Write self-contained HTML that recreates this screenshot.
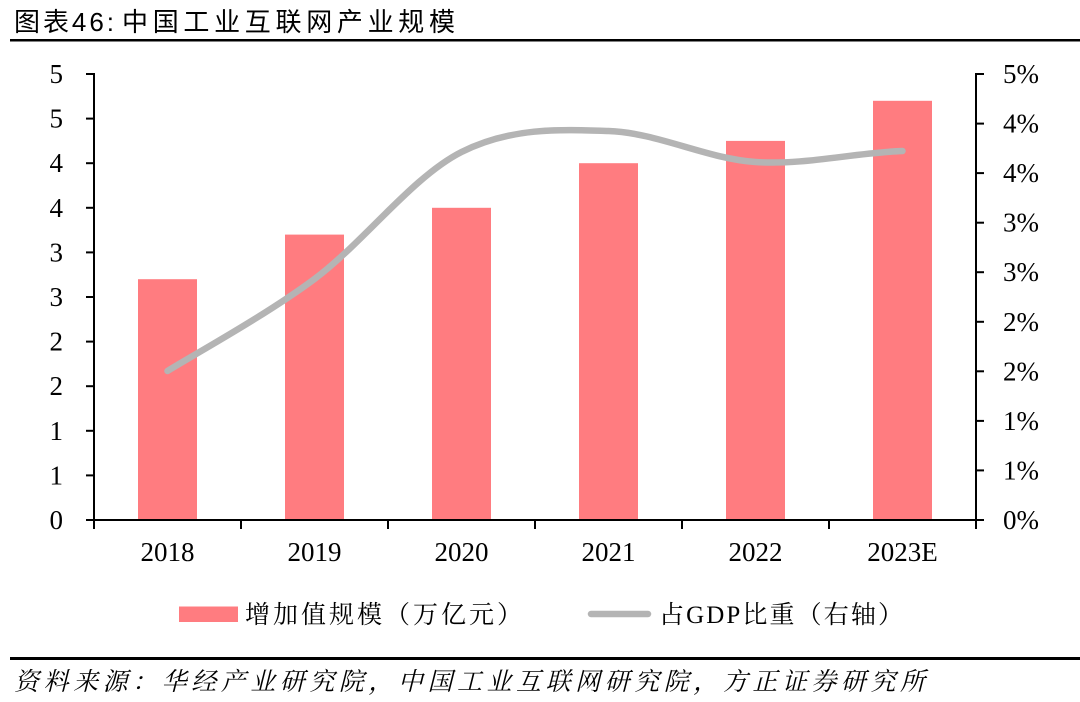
<!DOCTYPE html>
<html><head><meta charset="utf-8"><style>
html,body{margin:0;padding:0;background:#fff;}
svg{display:block;}
.ax{font-family:"Liberation Serif","Noto Serif CJK SC",serif;font-size:27px;fill:#000;}
</style></head><body>
<svg width="1080" height="702" viewBox="0 0 1080 702" xmlns="http://www.w3.org/2000/svg">
<rect width="1080" height="702" fill="#fff"/>
<!-- title -->
<text x="14" y="31" font-family="'Liberation Sans','Noto Sans CJK SC',sans-serif" font-size="26" fill="#000" textLength="100" lengthAdjust="spacing">图表46:</text>
<text x="122" y="31" font-family="'Liberation Sans','Noto Sans CJK SC',sans-serif" font-size="26" fill="#000" textLength="333" lengthAdjust="spacing">中国工业互联网产业规模</text>
<rect x="10" y="39" width="1070" height="2.5" fill="#000"/>

<!-- bars -->
<g fill="#FF7C80">
<rect x="138" y="279.2" width="59" height="240.8"/>
<rect x="285" y="234.6" width="59" height="285.4"/>
<rect x="432" y="207.8" width="59" height="312.2"/>
<rect x="579" y="163.2" width="59" height="356.8"/>
<rect x="726" y="140.9" width="59" height="379.1"/>
<rect x="873" y="100.8" width="59" height="419.2"/>
</g>

<!-- line -->
<path d="M167.5,371 C192,355.7 265.5,315.5 314.5,279 C363.5,242.5 412.5,176.7 461.5,152 C510.5,127.3 559.5,129.3 608.5,131 C657.5,132.7 706.5,158.7 755.5,162 C804.5,165.3 853.5,152.8 902.5,151" fill="none" stroke="#B4B4B4" stroke-width="6.5" stroke-linecap="round" stroke-linejoin="round"/>

<!-- axes -->
<g stroke="#000" stroke-width="2" fill="none">
<line x1="94" y1="73" x2="94" y2="529"/>
<line x1="976" y1="73" x2="976" y2="529"/>
<line x1="86" y1="520" x2="984" y2="520"/>
<line x1="86" y1="74" x2="94" y2="74"/>
<line x1="86" y1="118.6" x2="94" y2="118.6"/>
<line x1="86" y1="163.2" x2="94" y2="163.2"/>
<line x1="86" y1="207.8" x2="94" y2="207.8"/>
<line x1="86" y1="252.4" x2="94" y2="252.4"/>
<line x1="86" y1="297" x2="94" y2="297"/>
<line x1="86" y1="341.6" x2="94" y2="341.6"/>
<line x1="86" y1="386.2" x2="94" y2="386.2"/>
<line x1="86" y1="430.8" x2="94" y2="430.8"/>
<line x1="86" y1="475.4" x2="94" y2="475.4"/>
<line x1="976" y1="74" x2="984" y2="74"/>
<line x1="976" y1="123.6" x2="984" y2="123.6"/>
<line x1="976" y1="173.1" x2="984" y2="173.1"/>
<line x1="976" y1="222.7" x2="984" y2="222.7"/>
<line x1="976" y1="272.2" x2="984" y2="272.2"/>
<line x1="976" y1="321.8" x2="984" y2="321.8"/>
<line x1="976" y1="371.3" x2="984" y2="371.3"/>
<line x1="976" y1="420.9" x2="984" y2="420.9"/>
<line x1="976" y1="470.4" x2="984" y2="470.4"/>
<line x1="241" y1="520" x2="241" y2="529"/>
<line x1="388" y1="520" x2="388" y2="529"/>
<line x1="535" y1="520" x2="535" y2="529"/>
<line x1="682" y1="520" x2="682" y2="529"/>
<line x1="829" y1="520" x2="829" y2="529"/>
</g>

<!-- left labels -->
<g class="ax" text-anchor="end">
<text x="63" y="83">5</text>
<text x="63" y="127.6">5</text>
<text x="63" y="172.2">4</text>
<text x="63" y="216.8">4</text>
<text x="63" y="261.4">3</text>
<text x="63" y="306">3</text>
<text x="63" y="350.6">2</text>
<text x="63" y="395.2">2</text>
<text x="63" y="439.8">1</text>
<text x="63" y="484.4">1</text>
<text x="63" y="529">0</text>
</g>
<!-- right labels -->
<g class="ax">
<text x="1003" y="83">5%</text>
<text x="1003" y="132.6">4%</text>
<text x="1003" y="182.1">4%</text>
<text x="1003" y="231.7">3%</text>
<text x="1003" y="281.2">3%</text>
<text x="1003" y="330.8">2%</text>
<text x="1003" y="380.3">2%</text>
<text x="1003" y="429.9">1%</text>
<text x="1003" y="479.4">1%</text>
<text x="1003" y="529">0%</text>
</g>
<!-- x labels -->
<g class="ax" text-anchor="middle">
<text x="167.5" y="561">2018</text>
<text x="314.5" y="561">2019</text>
<text x="461.5" y="561">2020</text>
<text x="608.5" y="561">2021</text>
<text x="755.5" y="561">2022</text>
<text x="902.5" y="561">2023E</text>
</g>

<!-- legend -->
<rect x="179" y="606.5" width="59" height="15.5" fill="#FF7C80"/>
<text x="245" y="623" font-family="'Liberation Serif','Noto Serif CJK SC',serif" font-size="25" fill="#000" textLength="277" lengthAdjust="spacing">增加值规模（万亿元）</text>
<line x1="591" y1="614" x2="648" y2="614" stroke="#B4B4B4" stroke-width="6.5" stroke-linecap="round"/>
<text x="659" y="623" font-family="'Liberation Serif','Noto Serif CJK SC',serif" font-size="25" fill="#000" textLength="244" lengthAdjust="spacing">占GDP比重（右轴）</text>

<!-- footer -->
<rect x="10" y="657" width="1070" height="3" fill="#000"/>
<text x="14" y="690" font-family="'Liberation Serif','Noto Serif CJK SC',serif" font-size="25" font-style="italic" fill="#000" textLength="911" lengthAdjust="spacing">资料来源：华经产业研究院，中国工业互联网研究院，方正证券研究所</text>
</svg>
</body></html>
